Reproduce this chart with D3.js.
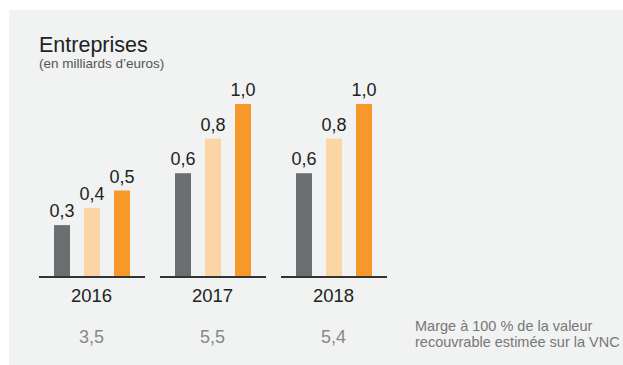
<!DOCTYPE html>
<html>
<head>
<meta charset="utf-8">
<script src="https://cdn.jsdelivr.net/npm/d3@7"></script>
<style>
  body { margin: 0; background: #fff; }
  text { font-family: "Liberation Sans", Arial, sans-serif; }
</style>
</head>
<body>
<script>
var years = ['2016', '2017', '2018'];
var series = ['s1', 's2', 's3'];
var s1 = [0.3, 0.6, 0.6];
var s2 = [0.4, 0.8, 0.8];
var s3 = [0.5, 1.0, 1.0];
var marges = ['3,5', '5,5', '5,4'];
var colors = ['#6d6e71', '#fcd5a5', '#f7982a'];

var w = 623, h = 365;
var baseY = 277;

var svg = d3.select('body').append('svg')
            .attr('width', w)
            .attr('height', h)

svg.append('rect')
   .attr('x', 9).attr('y', 10)
   .attr('width', w - 9).attr('height', h - 10)
   .attr('fill', '#f1f2f2')

svg.append('text')
   .attr('x', 39).attr('y', 52)
   .style('font-size', '21.5px')
   .attr('fill', '#222')
   .text('Entreprises')
svg.append('text')
   .attr('x', 39).attr('y', 68)
   .style('font-size', '13.5px')
   .attr('fill', '#555')
   .text('(en milliards d\u2019euros)')

var x0 = d3.scaleBand()
           .domain(years)
           .range([39, 39 + 121 * 3 - 15])
           .paddingInner(15 / 121)
           .paddingOuter(0)
var x1 = d3.scaleBand()
           .domain(series)
           .range([15, 91])
           .paddingInner(14 / 30)
var y = d3.scaleLinear()
          .domain([0, 1])
          .range([baseY, baseY - 173])

var data = years.map(function(yr, i){
  return {year: yr, values: [s1[i], s2[i], s3[i]], marge: marges[i]};
})

var groups = svg.selectAll('.grp')
    .data(data)
    .enter()
      .append('g')
      .classed('grp', true)
      .attr('transform', function(d){ return 'translate(' + x0(d.year) + ',0)' })

groups.selectAll('.bar')
    .data(function(d){ return d.values })
    .enter()
      .append('rect')
      .classed('bar', true)
      .attr('x', function(d, i){ return x1(series[i]) })
      .attr('y', function(d){ return y(d) })
      .attr('width', x1.bandwidth())
      .attr('height', function(d){ return baseY - y(d) })
      .attr('fill', function(d, i){ return colors[i] })

groups.selectAll('.vlabel')
    .data(function(d){ return d.values })
    .enter()
      .append('text')
      .classed('vlabel', true)
      .attr('x', function(d, i){ return x1(series[i]) + x1.bandwidth() / 2 })
      .attr('y', function(d){ return y(d) - 8 })
      .attr('text-anchor', 'middle')
      .style('font-size', '18px')
      .attr('fill', '#222')
      .text(function(d){ return d3.format('.1f')(d).replace('.', ',') })

// axis segment under each group
groups.append('line')
    .attr('x1', 0).attr('x2', x0.bandwidth())
    .attr('y1', baseY).attr('y2', baseY)
    .attr('stroke', '#333')
    .attr('stroke-width', 2)

groups.append('text')
    .attr('x', x0.bandwidth() / 2 - 0.5)
    .attr('y', 302)
    .attr('text-anchor', 'middle')
    .style('font-size', '18.5px')
    .attr('fill', '#222')
    .text(function(d){ return d.year })

groups.append('text')
    .attr('x', x0.bandwidth() / 2 - 0.5)
    .attr('y', 343)
    .attr('text-anchor', 'middle')
    .style('font-size', '18px')
    .attr('fill', '#888')
    .text(function(d){ return d.marge })

var note = svg.append('text')
   .attr('x', 415)
   .style('font-size', '14.5px')
   .attr('fill', '#777')
note.append('tspan').attr('x', 415).attr('y', 331).text('Marge \u00e0 100 % de la valeur')
note.append('tspan').attr('x', 415).attr('y', 347).text('recouvrable estim\u00e9e sur la VNC')
</script>
</body>
</html>
